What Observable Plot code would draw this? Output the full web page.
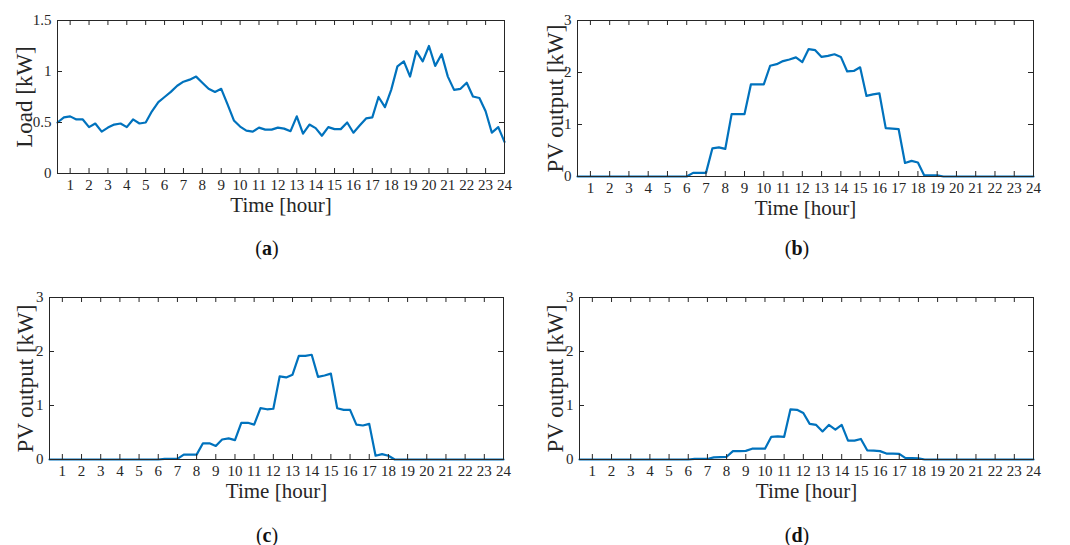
<!DOCTYPE html>
<html>
<head>
<meta charset="utf-8">
<script src="https://cdn.jsdelivr.net/npm/d3@7"></script>
<script src="https://cdn.jsdelivr.net/npm/@observablehq/plot@0.6"></script>
<style>
  html, body { margin: 0; padding: 0; background: #fff; }
  #root { position: relative; width: 1070px; height: 545px; font-family: "Liberation Serif", serif; color: #262626; }
  .panel { position: absolute; }
  .cap { position: absolute; font-family: "Liberation Serif", serif; font-size: 20px; color: #111; transform: translate(-50%, -50%); white-space: nowrap; }
</style>
</head>
<body>
<div id="root"></div>
<script>
// time in hours (20-minute steps)
const time = [0.33,0.67,1, 1.33,1.67,2, 2.33,2.67,3, 3.33,3.67,4, 4.33,4.67,5, 5.33,5.67,6,
  6.33,6.67,7, 7.33,7.67,8, 8.33,8.67,9, 9.33,9.67,10, 10.33,10.67,11, 11.33,11.67,12,
  12.33,12.67,13, 13.33,13.67,14, 14.33,14.67,15, 15.33,15.67,16, 16.33,16.67,17, 17.33,17.67,18,
  18.33,18.67,19, 19.33,19.67,20, 20.33,20.67,21, 21.33,21.67,22, 22.33,22.67,23, 23.33,23.67,24];

const hourTicks = [1,2,3,4,5,6,7,8,9,10,11,12,13,14,15,16,17,18,19,20,21,22,23,24];
const loadTicks = [0, 0.5, 1, 1.5];
const pvTicks = [0, 1, 2, 3];

const loadA = [0.50,0.55,0.56, 0.53,0.53,0.455, 0.49,0.41,0.45, 0.48,0.49,0.455, 0.53,0.49,0.50, 0.61,0.70,0.75,
  0.80,0.86,0.90, 0.92,0.95,0.89, 0.83,0.80,0.83, 0.68,0.52,0.46, 0.42,0.41,0.45, 0.43,0.43,0.45,
  0.44,0.415,0.56, 0.39,0.48,0.445, 0.37,0.455,0.435, 0.435,0.50,0.40, 0.47,0.54,0.55, 0.75,0.65,0.82,
  1.05,1.10,0.95, 1.20,1.10,1.25, 1.055,1.17,0.95, 0.82,0.83,0.89, 0.755,0.74,0.61, 0.40,0.455,0.31];

const pvB = [0,0,0, 0,0,0, 0,0,0, 0,0,0, 0,0,0, 0,0,0,
  0.07,0.07,0.07, 0.54,0.56,0.53, 1.20,1.20,1.20, 1.77,1.77,1.77, 2.13,2.16,2.22, 2.25,2.29,2.20,
  2.45,2.43,2.30, 2.32,2.35,2.30, 2.02,2.03,2.10, 1.55,1.58,1.60, 0.93,0.92,0.91, 0.26,0.30,0.27,
  0.02,0.02,0.02, 0,0,0, 0,0,0, 0,0,0, 0,0,0, 0,0,0];

const pvC = [0,0,0, 0,0,0, 0,0,0, 0,0,0, 0,0,0, 0,0,0,
  0.01,0.01,0.01, 0.09,0.09,0.09, 0.30,0.30,0.25, 0.37,0.39,0.36, 0.68,0.68,0.645, 0.95,0.93,0.94,
  1.54,1.52,1.57, 1.92,1.92,1.94, 1.53,1.555,1.59, 0.95,0.92,0.92, 0.645,0.63,0.66, 0.07,0.10,0.07,
  0,0,0, 0,0,0, 0,0,0, 0,0,0, 0,0,0, 0,0,0];

const pvD = [0,0,0, 0,0,0, 0,0,0, 0,0,0, 0,0,0, 0,0,0,
  0.01,0.01,0.01, 0.04,0.045,0.05, 0.155,0.155,0.16, 0.20,0.20,0.20, 0.42,0.43,0.42, 0.93,0.92,0.86,
  0.66,0.64,0.52, 0.64,0.555,0.64, 0.35,0.35,0.38, 0.17,0.165,0.155, 0.11,0.11,0.105, 0.025,0.025,0.02,
  0,0,0, 0,0,0, 0,0,0, 0,0,0, 0,0,0, 0,0,0];

const panels = [
  {values: loadA, ticks: loadTicks, domain: [0, 1.5], ylabel: "Load [kW]", caption: "a",
   left: 0, top: 0, mt: 20, mb: 42, ml: 57, mr: 16, dx: -33, capX: 267, capY: 248},
  {values: pvB, ticks: pvTicks, domain: [0, 3], ylabel: "PV output [kW]", caption: "b",
   left: 530, top: 0, mt: 20, mb: 39, ml: 47, mr: 17, dx: -22, capX: 797, capY: 248},
  {values: pvC, ticks: pvTicks, domain: [0, 3], ylabel: "PV output [kW]", caption: "c",
   left: 0, top: 277, mt: 20, mb: 33, ml: 49, mr: 17, dx: -24, capX: 267, capY: 535},
  {values: pvD, ticks: pvTicks, domain: [0, 3], ylabel: "PV output [kW]", caption: "d",
   left: 530, top: 277, mt: 20, mb: 33, ml: 49, mr: 17, dx: -24, capX: 797, capY: 535}
];

const root = document.getElementById("root");
const ink = "#262626";
const W = 520, Hs = 215;

for (const p of panels) {
  const innerH = Hs - p.mt - p.mb;
  const innerW = W - p.ml - p.mr;
  const rows = time.map((t, i) => ({t, v: p.values[i]}));
  const chart = Plot.plot({
    width: W, height: Hs,
    marginTop: p.mt, marginBottom: p.mb, marginLeft: p.ml, marginRight: p.mr,
    style: {fontFamily: "'Liberation Serif', serif", fontSize: "15px", color: ink, background: "transparent", overflow: "visible"},
    x: {domain: [0.33, 24]},
    y: {domain: p.domain},
    marks: [
      Plot.lineY(rows, {x: "t", y: "v", stroke: "#0072BD", strokeWidth: 2.2, strokeLinejoin: "round"}),
      Plot.ruleX(hourTicks, {x: d => d, insetTop: innerH - 5, stroke: ink}),
      Plot.ruleX(hourTicks, {x: d => d, insetBottom: innerH - 5, stroke: ink}),
      Plot.ruleY(p.ticks, {y: d => d, insetRight: innerW - 5, stroke: ink}),
      Plot.ruleY(p.ticks, {y: d => d, insetLeft: innerW - 5, stroke: ink}),
      Plot.frame({stroke: ink, strokeWidth: 1}),
      Plot.axisX(hourTicks, {tickSize: 0, tickPadding: 6, label: null, fontSize: 15, fill: ink}),
      Plot.axisY(p.ticks, {tickSize: 0, tickPadding: 6, label: null, fontSize: 15, fill: ink, tickFormat: d => String(d)}),
      Plot.text(["Time [hour]"], {text: d => d, frameAnchor: "bottom", lineAnchor: "middle", textAnchor: "middle", dy: 32, fontSize: 21, fill: ink}),
      Plot.text([p.ylabel], {text: d => d, frameAnchor: "left", textAnchor: "middle", lineAnchor: "middle", dx: p.dx, rotate: -90, fontSize: 23, fill: ink})
    ]
  });
  const div = document.createElement("div");
  div.className = "panel";
  div.style.left = p.left + "px";
  div.style.top = p.top + "px";
  div.appendChild(chart);
  root.appendChild(div);

  const cap = document.createElement("div");
  cap.className = "cap";
  cap.style.left = p.capX + "px";
  cap.style.top = p.capY + "px";
  cap.innerHTML = "(<b>" + p.caption + "</b>)";
  root.appendChild(cap);
}
</script>
</body>
</html>
